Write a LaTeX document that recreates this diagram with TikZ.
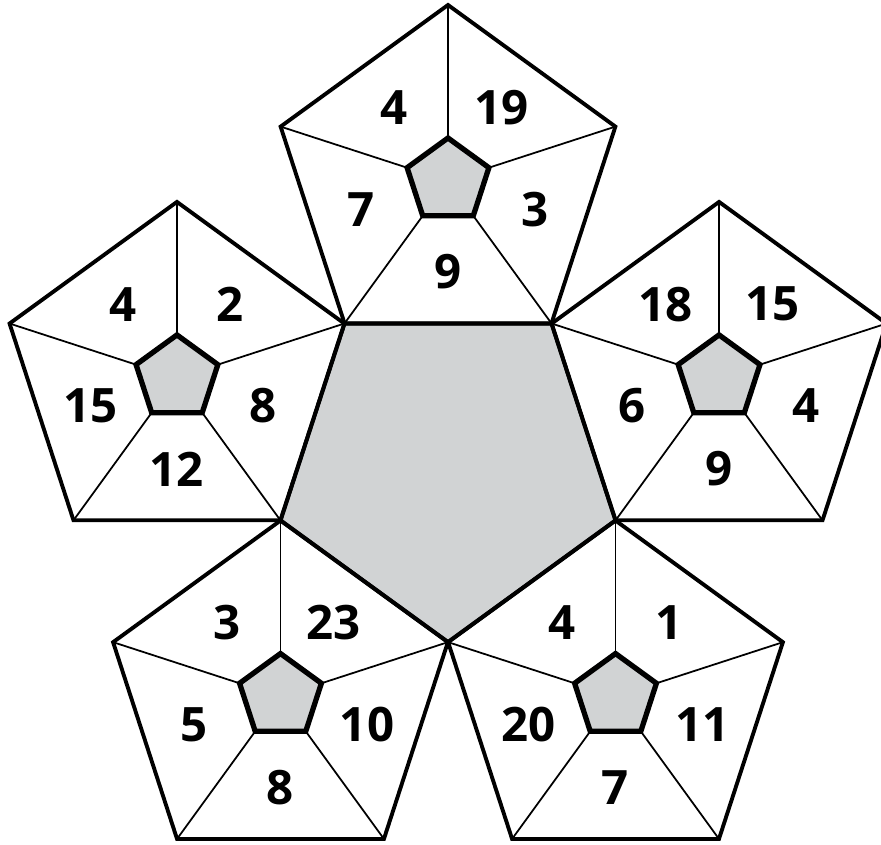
\documentclass[tikz,border=0pt]{standalone}
\usepackage{fontspec}
\setmainfont{Open Sans}
\definecolor{cellgrey}{HTML}{D1D3D4}
\begin{document}
\begin{tikzpicture}[x=0.02cm,y=0.02cm,
  rim/.style={line width=2.2pt,line join=miter},
  spoke/.style={line width=1pt},
  hub/.style={line width=3pt,line join=miter,fill=cellgrey},
  num/.style={font=\bfseries\fontsize{27}{27}\selectfont,inner sep=0pt}]
  \useasboundingbox (0,0) rectangle (881,844);
  \coordinate (mid) at (448,378);
  % grey middle pentagon
  \foreach \k in {0,...,4}
    \coordinate (mid-o\k) at ([shift={(-90+72*\k:176)}]mid);
  \draw[rim,fill=cellgrey] (mid-o0) -- (mid-o1) -- (mid-o2) -- (mid-o3) -- (mid-o4) -- cycle;
  % five wheels round it, numbers from 54 deg on, anticlockwise
  \foreach \name/\ang/\la/\lb/\lc/\ld/\le in {
      top/90/19/4/7/9/3, left/162/2/4/15/12/8, right/18/15/18/6/9/4,
      lowleft/-126/23/3/5/8/10, lowright/-54/1/4/20/7/11} {
    \coordinate (\name) at ([shift={(\ang:285)}]mid);
    \foreach \k in {0,...,4} {
      \coordinate (\name-o\k) at ([shift={(90+72*\k:176)}]\name);
      \coordinate (\name-i\k) at ([shift={(90+72*\k:43)}]\name);
      \draw[spoke] (\name-i\k) -- (\name-o\k);
    }
    \draw[hub] (\name-i0) -- (\name-i1) -- (\name-i2) -- (\name-i3) -- (\name-i4) -- cycle;
    \draw[rim] (\name-o0) -- (\name-o1) -- (\name-o2) -- (\name-o3) -- (\name-o4) -- cycle;
    \foreach \t [count=\k from 0] in {\la,\lb,\lc,\ld,\le}
      \node[num] (\name-n\k) at ([shift={(54+72*\k:91)}]\name) {\t};
  }
\end{tikzpicture}
\end{document}
